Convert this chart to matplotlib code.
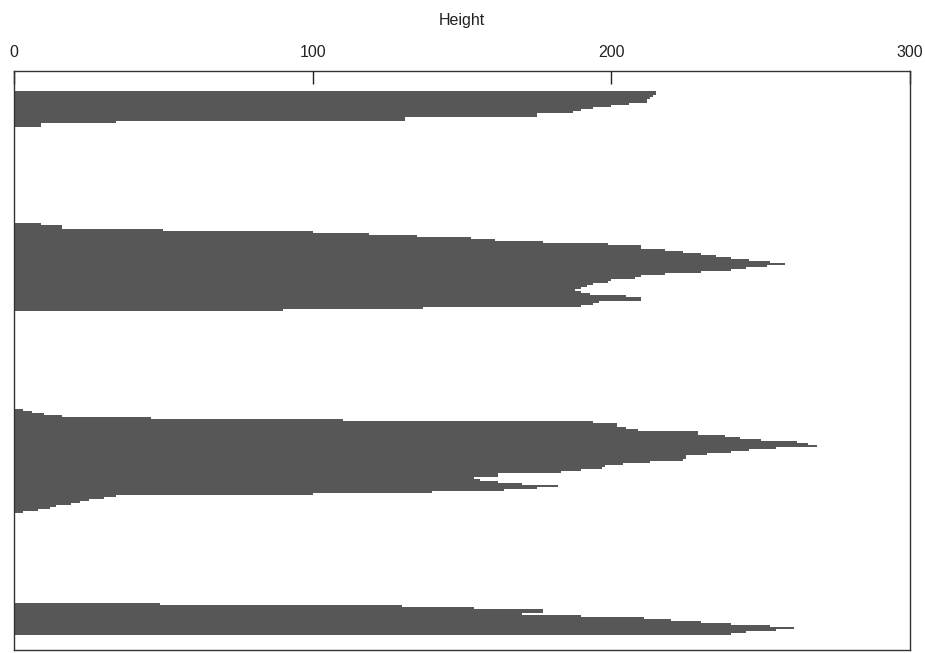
import matplotlib
matplotlib.use("Agg")
import matplotlib.pyplot as plt
import numpy as np

plt.rcParams['font.family'] = ['Liberation Sans', 'DejaVu Sans']

# Bar lengths (Height) for each row of the four groups, top to bottom
group1_heights = [215, 215, 214, 213, 212, 212, 206, 200, 194, 190, 187, 175,
                  175, 131, 131, 34, 9, 9]
group2_heights = [9, 16, 16, 50, 100, 119, 135, 153, 161, 177, 199, 210, 210,
                  218, 224, 230, 235, 240, 246, 253, 258, 252, 245, 240, 230,
                  218, 210, 208, 200, 199, 194, 192, 190, 188, 190, 193, 205,
                  210, 210, 196, 194, 190, 137, 90]
group3_heights = [3, 6, 10, 16, 46, 110, 194, 202, 202, 205, 209, 229, 229,
                  238, 243, 250, 262, 266, 269, 255, 246, 240, 232, 225, 225,
                  224, 213, 204, 198, 197, 190, 183, 162, 162, 154, 156, 162,
                  170, 182, 175, 164, 140, 100, 34, 30, 25, 22, 19, 14, 12, 8, 3]
group4_heights = [49, 130, 154, 177, 177, 170, 190, 211, 220, 230, 240, 253,
                  261, 255, 245, 240]

x_ticks = [0, 100, 200, 300]
x_tick_labels = ['0', '100', '200', '300']
x_label = 'Height'

# layout: first row index of each group
group_starts = [10, 76, 169, 266]
n_rows = 289.5

fig = plt.figure(figsize=(9.25, 6.53), dpi=100)
ax = fig.add_axes([14 / 925, 3 / 653, 896 / 925, 579 / 653])

bar_color = '#575757'
for start, vals in zip(group_starts,
                       [group1_heights, group2_heights, group3_heights, group4_heights]):
    y = start + np.arange(len(vals)) + 0.5
    ax.barh(y, vals, height=1.0, color=bar_color, linewidth=0, antialiased=False)

ax.set_xlim(0, 300)
ax.set_ylim(n_rows, 0)
ax.xaxis.tick_top()
ax.xaxis.set_label_position('top')
ax.set_xticks(x_ticks)
ax.set_xticklabels(x_tick_labels)
ax.tick_params(axis='x', direction='in', length=9, width=1, pad=8,
               labelsize=11.5, colors='#222222')
ax.set_yticks([])
ax.set_xlabel(x_label, fontsize=11.5, labelpad=14, color='#222222')
for s in ax.spines.values():
    s.set_linewidth(1)
    s.set_color('#333333')

fig.savefig('out.png', dpi=100)
